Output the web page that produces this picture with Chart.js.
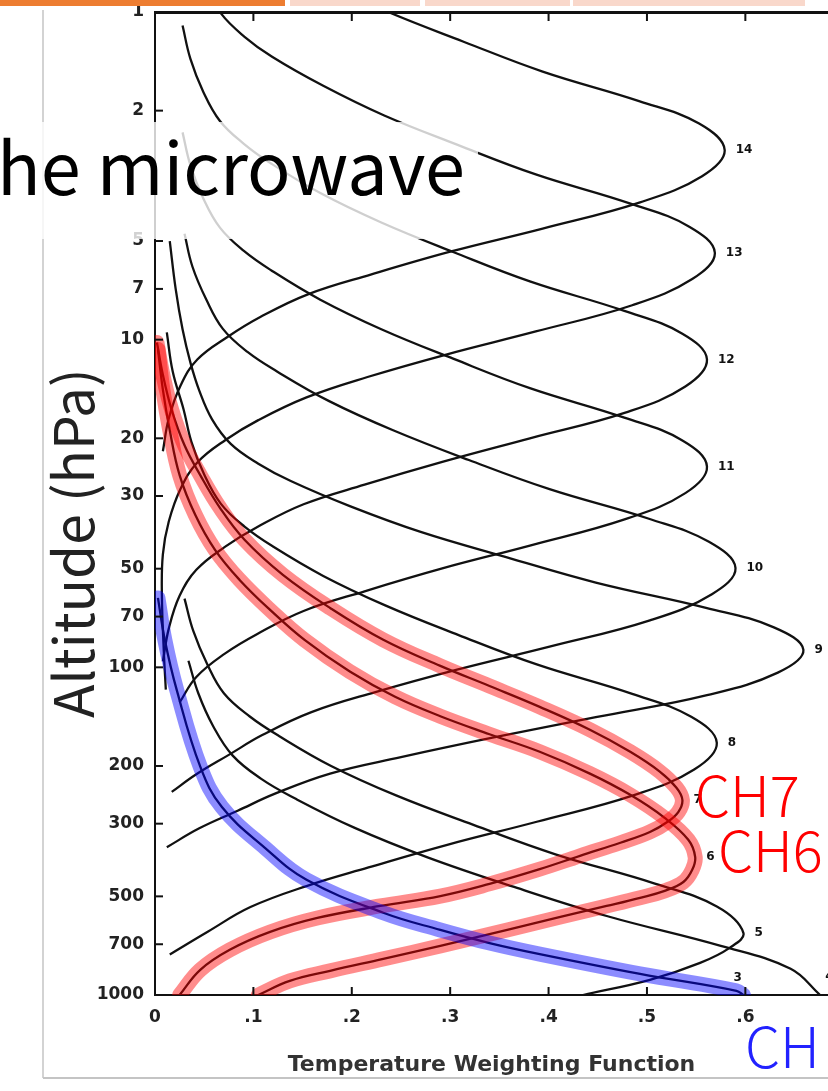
<!DOCTYPE html>
<html>
<head>
<meta charset="utf-8">
<script src="https://cdn.jsdelivr.net/npm/chart.js@4.4.0/dist/chart.umd.min.js"></script>
<style>
  body { margin: 0; background: #fff; }
  #wrap { position: relative; width: 828px; height: 1091px; overflow: hidden; }
  #myChart { position: absolute; left: 0; top: 0; }
  #over { position: absolute; left: 0; top: 0; }
</style>
</head>
<body>
<div id="wrap">
  <canvas id="myChart" width="828" height="1091"></canvas>
  <svg id="over" width="828" height="1091" font-family="'Noto Sans CJK JP', 'Noto Sans', sans-serif">
    <rect x="0" y="0" width="285" height="6" fill="#ED7D31"/>
    <rect x="290" y="0" width="130" height="6" fill="#F9D8CB"/>
    <rect x="425" y="0" width="145" height="6" fill="#F9D8CB"/>
    <rect x="573" y="0" width="232" height="6" fill="#F9D8CB"/>
    <line x1="43" y1="10" x2="43" y2="1078" stroke="#c4c4c4" stroke-width="1.5"/>
    <line x1="43" y1="1078" x2="828" y2="1078" stroke="#c4c4c4" stroke-width="2"/>
    <rect x="-5" y="122" width="483" height="117" fill="#fff" fill-opacity="0.8"/>
    <text x="-3" y="195" font-size="72" fill="#000">he microwave</text>
    <rect x="45" y="365" width="57" height="357" fill="#fff"/>
    <text transform="translate(94,718) rotate(-90)" font-size="55" fill="#222">Altitude (hPa)</text>
    <text x="695" y="817" font-size="56" font-weight="300" fill="#ff0000">CH7</text>
    <text x="718" y="872" font-size="56" font-weight="300" fill="#ff0000">CH6</text>
    <text x="745" y="1068" font-size="56" font-weight="300" fill="#2222ff">CH</text>
  </svg>
</div>
<script>
// axis ticks
const pressureTicks = [1, 2, 5, 7, 10, 20, 30, 50, 70, 100, 200, 300, 500, 700, 1000];
const weightTicks = [0, 0.1, 0.2, 0.3, 0.4, 0.5, 0.6];
const weightLabels = ['0', '.1', '.2', '.3', '.4', '.5', '.6'];

// weighting functions, [weight, pressure hPa]
const ch3 = [[0.003,61.4],[0.010,82.5],[0.022,117],[0.046,201],[0.068,267],[0.112,356],[0.154,445],[0.232,561],[0.290,633],[0.340,694],[0.391,750],[0.493,862],[0.591,971],[0.598,1000]];
const ch4 = [[0.034,95.5],[0.044,120],[0.059,151],[0.079,186],[0.108,219],[0.142,251],[0.203,309],[0.277,380],[0.365,468],[0.460,575],[0.575,708],[0.646,832],[0.676,1000]];
const ch5 = [[0.030,61.7],[0.039,77.6],[0.053,97.7],[0.070,120],[0.096,141],[0.126,162],[0.179,200],[0.245,246],[0.323,302],[0.407,372],[0.508,457],[0.571,537],[0.598,646],[0.584,718],[0.554,798],[0.503,899],[0.435,1000]];
const ch6 = [[0.003,10.7],[0.008,14.2],[0.015,18.9],[0.025,25.9],[0.041,34.3],[0.061,43.8],[0.086,54.1],[0.117,66.8],[0.152,82.5],[0.198,103],[0.244,123],[0.290,141],[0.340,160],[0.391,181],[0.442,211],[0.483,245],[0.518,288],[0.542,336],[0.549,379],[0.546,415],[0.537,452],[0.518,481],[0.493,505],[0.459,535],[0.412,578],[0.358,633],[0.290,708],[0.232,776],[0.178,844],[0.137,906],[0.105,1000]];
const ch7 = [[0.002,10.2],[0.008,12.8],[0.017,16.4],[0.030,21.0],[0.046,25.9],[0.066,32.6],[0.091,40.8],[0.130,52.2],[0.178,65.9],[0.232,82.4],[0.290,99],[0.340,114],[0.391,132],[0.442,155],[0.483,181],[0.513,208],[0.530,233],[0.536,254],[0.532,276],[0.521,296],[0.503,318],[0.473,343],[0.432,376],[0.391,413],[0.340,458],[0.290,499],[0.229,535],[0.165,582],[0.117,642],[0.076,728],[0.046,838],[0.025,1000]];
const ch8 = [[0.012,9.5],[0.018,12.5],[0.029,16.3],[0.037,20.5],[0.050,25.8],[0.067,31.7],[0.091,37.2],[0.120,42.8],[0.171,52.6],[0.234,64.7],[0.308,79.6],[0.388,98],[0.485,120.5],[0.545,141.6],[0.571,170],[0.548,205],[0.486,246],[0.388,296],[0.297,348],[0.217,408],[0.154,465],[0.097,539],[0.054,640],[0.015,752]];
const ch9 = [[0.015,5.0],[0.021,7.0],[0.028,9.3],[0.036,11.75],[0.045,14.3],[0.058,17.5],[0.077,20.8],[0.105,23.9],[0.138,27],[0.198,32.2],[0.270,38.6],[0.356,46],[0.448,55.1],[0.560,65.8],[0.629,75.5],[0.659,88.5],[0.633,103.8],[0.561,121.6],[0.448,142],[0.343,164],[0.250,188],[0.178,211],[0.122,243],[0.084,274],[0.045,310],[0.012,354]];
const ch10 = [[0.030,4.75],[0.038,5.98],[0.052,7.53],[0.069,9.27],[0.094,10.9],[0.124,12.5],[0.177,15.4],[0.242,18.9],[0.319,23.3],[0.401,28.6],[0.502,35.2],[0.563,41.4],[0.590,49.8],[0.566,59.8],[0.503,71.9],[0.401,86.5],[0.307,101.6],[0.224,119],[0.159,137],[0.109,161],[0.075,185],[0.042,212],[0.017,240]];
const ch11 = [[0.028,2.33],[0.036,2.94],[0.049,3.70],[0.066,4.55],[0.090,5.35],[0.118,6.14],[0.168,7.55],[0.230,9.29],[0.303,11.43],[0.381,14.06],[0.477,17.3],[0.536,20.3],[0.561,24.4],[0.539,29.4],[0.478,35.3],[0.381,42.5],[0.292,49.9],[0.213,58.6],[0.151,67.3],[0.104,79.1],[0.071,90.8],[0.042,107],[0.025,128]];
const ch12 = [[0.028,1.10],[0.036,1.39],[0.049,1.75],[0.066,2.15],[0.090,2.52],[0.118,2.90],[0.168,3.57],[0.230,4.39],[0.303,5.40],[0.381,6.64],[0.477,8.17],[0.536,9.59],[0.561,11.5],[0.539,13.9],[0.478,16.7],[0.381,20.0],[0.292,23.6],[0.213,27.7],[0.151,31.8],[0.104,37.3],[0.071,42.9],[0.042,50.4],[0.025,60.5],[0.014,76.2],[0.008,95.9]];
const ch13 = [[0.050,0.82],[0.067,1.01],[0.091,1.19],[0.119,1.37],[0.171,1.68],[0.233,2.07],[0.307,2.54],[0.387,3.13],[0.484,3.85],[0.543,4.52],[0.569,5.43],[0.546,6.53],[0.485,7.85],[0.387,9.44],[0.296,11.1],[0.216,13.0],[0.154,15.0],[0.105,17.6],[0.072,20.2],[0.043,23.7],[0.026,28.5],[0.014,35.9],[0.008,45.2],[0.007,60],[0.009,90],[0.011,117]];
const ch14 = [[0.093,0.58],[0.122,0.66],[0.174,0.82],[0.237,1.00],[0.313,1.23],[0.394,1.52],[0.492,1.87],[0.553,2.19],[0.579,2.64],[0.556,3.17],[0.493,3.81],[0.394,4.58],[0.301,5.38],[0.220,6.32],[0.156,7.26],[0.107,8.53],[0.074,9.80],[0.043,11.5],[0.026,13.8],[0.014,17.4],[0.008,21.9]];

const channelNames = ['3', '4', '5', '6', '7', '8', '9', '10', '11', '12', '13', '14'];
const channels = [ch3, ch4, ch5, ch6, ch7, ch8, ch9, ch10, ch11, ch12, ch13, ch14];
const redChannels = ['6', '7'];
const blueChannels = ['3'];

const toXY = arr => arr.map(([w, p]) => ({x: w, y: p}));

const datasets = [];
// highlight bands first so they sit on top
channels.forEach((ch, i) => {
    const name = channelNames[i];
    let col = null;
    if (redChannels.includes(name)) col = 'rgba(255,0,0,0.45)';
    if (blueChannels.includes(name)) col = 'rgba(0,0,255,0.45)';
    if (col) {
        datasets.push({
            label: 'CH' + name + ' band', data: toXY(ch), showLine: true, tension: 0.4,
            borderColor: col, borderWidth: 15, borderCapStyle: 'round', borderJoinStyle: 'round',
            pointRadius: 0, fill: false
        });
    }
});
channels.forEach((ch, i) => {
    datasets.push({
        label: 'CH' + channelNames[i], data: toXY(ch), showLine: true, tension: 0.4,
        borderColor: '#111', borderWidth: 2.3, pointRadius: 0, fill: false
    });
});

// small inward tick marks + channel numbers at the peaks
const innerTicks = {
    id: 'innerTicks',
    afterDraw(chart) {
        const {ctx, chartArea: a, scales: {x, y}} = chart;
        ctx.save();
        ctx.strokeStyle = '#111';
        ctx.lineWidth = 2;
        weightTicks.slice(1).forEach(v => {
            const px = x.getPixelForValue(v);
            ctx.beginPath();
            ctx.moveTo(px, a.bottom); ctx.lineTo(px, a.bottom - 8);
            ctx.moveTo(px, a.top); ctx.lineTo(px, a.top + 9);
            ctx.stroke();
        });
        pressureTicks.forEach(v => {
            const py = y.getPixelForValue(v);
            ctx.beginPath();
            ctx.moveTo(a.left, py); ctx.lineTo(a.left + 8, py);
            ctx.stroke();
        });
        ctx.fillStyle = '#111';
        ctx.font = 'bold 12px "DejaVu Sans"';
        ctx.textBaseline = 'middle';
        channels.forEach((ch, i) => {
            let peak = ch[0];
            ch.forEach(pt => { if (pt[0] > peak[0]) peak = pt; });
            let dx = 11, dy = 0;
            if (channelNames[i] === '3') { dx = -10; dy = -17; }
            if (channelNames[i] === '4') { dx = 5; dy = -18; }
            ctx.fillText(channelNames[i], x.getPixelForValue(peak[0]) + dx, y.getPixelForValue(peak[1]) + dy);
        });
        ctx.restore();
    }
};

const tickFont = {family: 'DejaVu Sans', weight: 'bold', size: 17};

const config = {
    type: 'scatter',
    data: {datasets},
    options: {
        responsive: false,
        animation: false,
        devicePixelRatio: 1,
        layout: {padding: 0},
        plugins: {legend: {display: false}, tooltip: {enabled: false}},
        scales: {
            x: {
                type: 'linear', position: 'bottom', min: 0, max: 0.684,
                afterBuildTicks: s => { s.ticks = weightTicks.map(v => ({value: v})); },
                afterFit: s => { s.height = 96; s.paddingLeft = 0; s.paddingRight = 0; },
                ticks: {callback: (v, i) => weightLabels[i], font: tickFont, color: '#222', padding: 12, maxRotation: 0, autoSkip: false},
                grid: {display: false, drawTicks: false},
                border: {display: true, color: '#111', width: 2},
                title: {display: true, text: 'Temperature Weighting Function', color: '#333',
                        font: {family: 'DejaVu Sans', weight: 'bold', size: 22}, padding: {top: 0, bottom: 13}}
            },
            xTop: {
                type: 'linear', position: 'top', min: 0, max: 0.684,
                afterFit: s => { s.height = 12; },
                ticks: {display: false},
                grid: {display: false, drawTicks: false},
                border: {display: true, color: '#111', width: 3}
            },
            y: {
                type: 'logarithmic', position: 'left', reverse: true, min: 1, max: 1000,
                afterBuildTicks: s => { s.ticks = pressureTicks.map(v => ({value: v})); },
                afterFit: s => { s.width = 155; s.paddingTop = 0; s.paddingBottom = 0; },
                ticks: {callback: v => String(v), font: tickFont, color: '#222', padding: 11, autoSkip: false},
                grid: {display: false, drawTicks: false},
                border: {display: true, color: '#111', width: 2}
            }
        }
    },
    plugins: [innerTicks]
};

const myChart = new Chart(document.getElementById('myChart'), config);
</script>
</body>
</html>
